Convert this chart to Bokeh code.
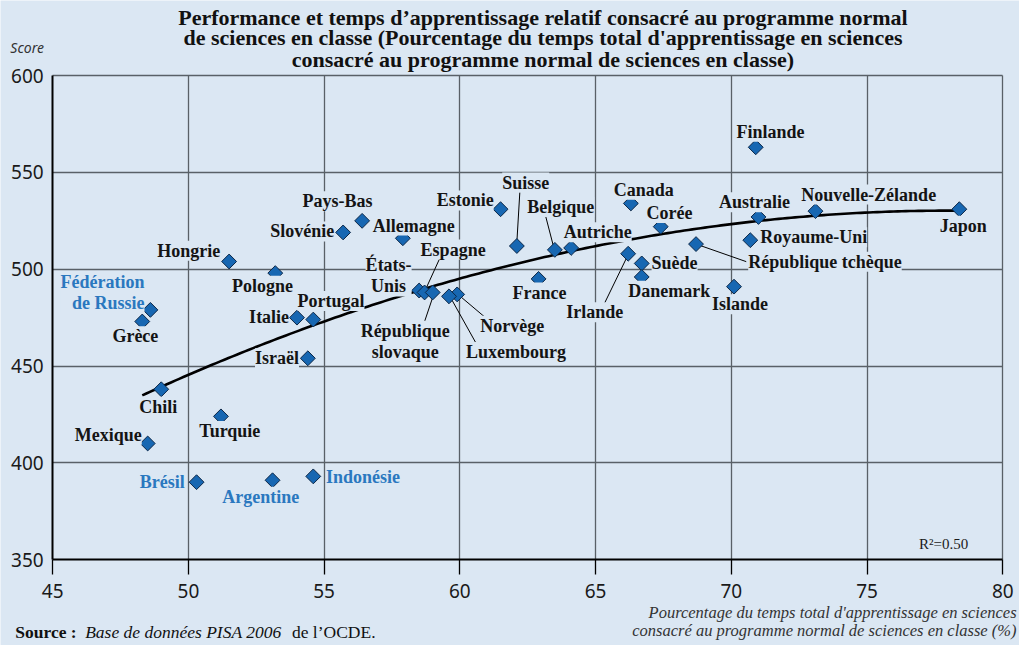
import numpy as np
from bokeh.plotting import figure
from bokeh.models import Label, Range1d, FixedTicker, Grid
from bokeh.embed import file_html
from bokeh.resources import INLINE

# ---------------- data ----------------
countries = ["Fédération\nde Russie", "Grèce", "Chili", "Mexique", "Hongrie", "Pologne",
             "Italie", "Portugal", "Israël", "Turquie", "Brésil", "Argentine", "Indonésie",
             "Slovénie", "Pays-Bas", "Allemagne", "Estonie", "Suisse", "Belgique", "Autriche",
             "France", "États-\nUnis", "Espagne", "République\nslovaque", "Norvège", "Luxembourg",
             "Canada", "Corée", "Irlande", "Suède", "Danemark", "République tchèque", "Islande",
             "Royaume-Uni", "Australie", "Finlande", "Nouvelle-Zélande", "Japon"]
pct_time = [48.6, 48.3, 49.0, 48.5, 51.5, 53.2,
            54.0, 54.6, 54.4, 51.2, 50.3, 53.1, 54.6,
            55.7, 56.4, 57.9, 61.5, 62.1, 63.5, 64.1,
            62.9, 58.5, 58.7, 59.0, 59.9, 59.6,
            66.3, 67.4, 66.2, 66.7, 66.7, 68.7, 70.1,
            70.7, 71.0, 70.9, 73.1, 78.4]
science_score = [479, 473, 438, 410, 504, 498,
                 475, 474, 454, 424, 390, 391, 393,
                 519, 525, 516, 531, 512, 510, 511,
                 495, 489, 488, 488, 487, 486,
                 534, 522, 508, 503, 496, 513, 491,
                 515, 527, 563, 530, 531]
partner_blue = ["Fédération\nde Russie", "Brésil", "Argentine", "Indonésie"]
x_ticks = [45, 50, 55, 60, 65, 70, 75, 80]
y_ticks = [350, 400, 450, 500, 550, 600]
r2_text = "R²=0.50"
title_lines = ["Performance et temps d’apprentissage relatif consacré au programme normal",
               "de sciences en classe (Pourcentage du temps total d'apprentissage en sciences",
               "consacré au programme normal de sciences en classe)"]
y_caption = "Score"
x_caption = ["Pourcentage du temps total d'apprentissage en sciences",
             "consacré au programme normal de sciences en classe (%)"]
source_parts = ["Source :", "Base de données PISA 2006", "de l’OCDE."]

# ---------------- layout / style ----------------
BG = "#dbe7f3"
MARK_FILL = "#1767b2"
MARK_LINE = "#0c2747"
BLUE_TXT = "#2a78bf"
GRID = "#596067"
SERIF = "Liberation Serif"

W, H = 1019, 645
RX, RY = W / 1035.0, H / 661.0          # reference px -> canvas px
FR_L, FR_R = 53 * RX, 1018 * RX         # plot area on the canvas
FR_T, FR_B = 77 * RY, 573 * RY
PXX = (FR_R - FR_L) / 35.0
PXY = (FR_B - FR_T) / 250.0


def DX(rx):  # reference px -> data x
    return 45 + (rx * RX - FR_L) / PXX


def DY(ry):  # reference px -> data y
    return 600 - (ry * RY - FR_T) / PXY


# label placement (reference px offsets from the marker: dx, dy(down), align)
label_pos = {
    "Fédération\nde Russie": (-6, -18, "right"),
    "Grèce": (-7, 15, "center"),
    "Chili": (-3, 18, "center"),
    "Mexique": (-6, -9, "right"),
    "Hongrie": (-9, -11, "right"),
    "Pologne": (-13, 13, "center"),
    "Italie": (-8, -1, "right"),
    "Portugal": (18, -19, "center"),
    "Israël": (-9, 0, "right"),
    "Turquie": (9, 15, "center"),
    "Brésil": (-12, 0, "right"),
    "Argentine": (-12, 17, "center"),
    "Indonésie": (13, 1, "left"),
    "Slovénie": (-9, -1, "right"),
    "Pays-Bas": (-25, -20, "center"),
    "Allemagne": (11, -13, "center"),
    "Estonie": (-7, -9, "right"),
    "Suisse": (9, -65, "center"),
    "Belgique": (6, -44, "center"),
    "Autriche": (27, -16, "center"),
    "France": (1, 14, "center"),
    "États-\nUnis": (-31, -15, "center"),
    "Espagne": (29, -44, "center"),
    "République\nslovaque": (-28, 50, "center"),
    "Norvège": (56, 32, "center"),
    "Luxembourg": (68, 57, "center"),
    "Canada": (13, -14, "center"),
    "Corée": (9, -14, "center"),
    "Irlande": (-34, 60, "center"),
    "Suède": (10, 0, "left"),
    "Danemark": (28, 14, "center"),
    "République tchèque": (53, 18, "left"),
    "Islande": (6, 18, "center"),
    "Royaume-Uni": (10, -3, "left"),
    "Australie": (-4, -15, "center"),
    "Finlande": (15, -16, "center"),
    "Nouvelle-Zélande": (54, -17, "center"),
    "Japon": (4, 17, "center"),
}
# leader lines (reference px offsets from marker: start dx, dy, end dx, dy)
leaders = {
    "Espagne": (1, -3, 15, -34),
    "République\nslovaque": (0, 5, -10, 35),
    "Norvège": (2, 1, 29, 24),
    "Luxembourg": (2, 2, 28, 49),
    "Suisse": (0, -4, 3, -55),
    "Belgique": (-1, -2, -10, -37),
    "Irlande": (-1, 3, -27, 57),
    "République tchèque": (0, 0, 51, 18),
}


def dx_data(d):
    return d * RX / PXX


def dy_data(d):
    return -d * RY / PXY


# frame covers the whole canvas; axes sit at fixed data locations
p = figure(width=W, height=H, output_backend="svg", toolbar_location=None,
           x_range=Range1d(DX(0), DX(1035)), y_range=Range1d(DY(661), DY(0)),
           min_border=0)
p.background_fill_color = BG
p.border_fill_color = BG
p.outline_line_color = None

p.xaxis.ticker = FixedTicker(ticks=x_ticks)
p.yaxis.ticker = FixedTicker(ticks=y_ticks)
p.xaxis.fixed_location = y_ticks[0]
p.yaxis.fixed_location = x_ticks[0]
p.xaxis.bounds = (x_ticks[0], x_ticks[-1])
p.yaxis.bounds = (y_ticks[0], y_ticks[-1])
for ax in (p.xaxis[0], p.yaxis[0]):
    ax.axis_line_color = "black"
    ax.axis_line_width = 2
    ax.minor_tick_line_color = None
    ax.major_label_text_font = "Noto Sans"
    ax.major_label_text_font_size = "19px"
    ax.major_label_text_color = "#1a1a1a"
    ax.major_tick_line_color = "black"
    ax.major_tick_line_width = 1.3
p.xaxis.major_tick_out = 15
p.xaxis.major_tick_in = 0
p.xaxis.major_label_standoff = 9
p.yaxis.major_tick_out = 0
p.yaxis.major_tick_in = 0
p.yaxis.major_label_standoff = 9

p.xgrid.ticker = FixedTicker(ticks=x_ticks[1:])
p.ygrid.ticker = FixedTicker(ticks=y_ticks[1:])
has_cross = "cross_bounds" in Grid.properties()
if has_cross:
    p.xgrid.cross_bounds = (y_ticks[0], y_ticks[-1])
    p.ygrid.cross_bounds = (x_ticks[0], x_ticks[-1])
    for g in (p.xgrid[0], p.ygrid[0]):
        g.grid_line_color = GRID
        g.grid_line_width = 1.3
else:
    p.xgrid.visible = False
    p.ygrid.visible = False
    p.segment(x_ticks[1:], [y_ticks[0]] * (len(x_ticks) - 1), x_ticks[1:],
              [y_ticks[-1]] * (len(x_ticks) - 1), line_color=GRID, line_width=1.3)
    p.segment([x_ticks[0]] * (len(y_ticks) - 1), y_ticks[1:],
              [x_ticks[-1]] * (len(y_ticks) - 1), y_ticks[1:], line_color=GRID, line_width=1.3)

# quadratic trend fitted to the data
xs = np.array(pct_time)
ys = np.array(science_score)
coef = np.polyfit(xs, ys, 2)
tx = np.linspace(xs.min(), xs.max(), 200)
p.line(tx, np.polyval(coef, tx), line_color="black", line_width=2.6)

lx0, ly0, lx1, ly1 = [], [], [], []
for name, (a, b, c, d) in leaders.items():
    i = countries.index(name)
    lx0.append(pct_time[i] + dx_data(a))
    ly0.append(science_score[i] + dy_data(b))
    lx1.append(pct_time[i] + dx_data(c))
    ly1.append(science_score[i] + dy_data(d))
p.segment(lx0, ly0, lx1, ly1, line_color="black", line_width=1)

p.scatter(pct_time, science_score, marker="square", size=10.5, angle=np.pi / 4,
          fill_color=MARK_FILL, line_color=MARK_LINE, line_width=1)

for i, name in enumerate(countries):
    a, b, al = label_pos[name]
    p.add_layout(Label(x=pct_time[i] + dx_data(a), y=science_score[i] + dy_data(b), text=name,
                       text_align=al, text_baseline="middle",
                       text_font=SERIF, text_font_style="bold",
                       text_font_size="18px", text_line_height=1.05,
                       text_color=BLUE_TXT if name in partner_blue else "#141414",
                       background_fill_color=BG))

p.add_layout(Label(x=DX(958), y=DY(557), text=r2_text, text_align="center",
                   text_baseline="middle", text_font=SERIF, text_font_size="15px",
                   text_color="#1a1a1a"))

# title
for t, ry in zip(title_lines, [17, 38, 60]):
    p.add_layout(Label(x=DX(551), y=DY(ry), text=t, text_align="center",
                       text_baseline="middle", text_font=SERIF, text_font_style="bold",
                       text_font_size="22px", text_color="#111111"))
# y caption
p.add_layout(Label(x=DX(10), y=DY(48), text=y_caption, text_align="left",
                   text_baseline="middle", text_font="Noto Sans", text_font_style="italic",
                   text_font_size="14px", text_color="#333333"))
# x caption
for t, ry in zip(x_caption, [627, 646]):
    p.add_layout(Label(x=DX(1032), y=DY(ry), text=t, text_align="right",
                       text_baseline="middle", text_font=SERIF, text_font_style="italic",
                       text_font_size="16.5px", text_color="#333333"))
# source
for t, rx, st in zip(source_parts, [15, 86, 296], ["bold", "italic", "normal"]):
    p.add_layout(Label(x=DX(rx), y=DY(647), text=t, text_align="left",
                       text_baseline="middle", text_font=SERIF, text_font_style=st,
                       text_font_size="17.5px", text_color="#111111"))

html = file_html(p, INLINE)
html = html.replace("<body>", '<body style="background-color:%s">' % BG, 1)
open("out.html", "w").write(html)
